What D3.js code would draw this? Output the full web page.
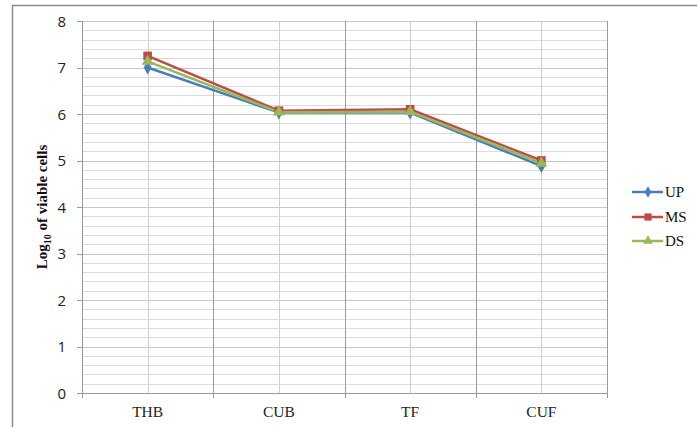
<!DOCTYPE html>
<html>
<head>
<meta charset="utf-8">
<script src="https://cdn.jsdelivr.net/npm/d3@7"></script>
<style>
  body { margin: 0; background: #fff; }
  svg { display: block; }
</style>
</head>
<body>
<div id="chart"></div>
<script>
// Data
const categories = ["THB", "CUB", "TF", "CUF"];
const seriesNames = ["UP", "MS", "DS"];
const upValues = [7.0, 6.03, 6.03, 4.88];
const msValues = [7.25, 6.07, 6.1, 5.0];
const dsValues = [7.13, 6.04, 6.05, 4.94];
const yTicks = [0, 1, 2, 3, 4, 5, 6, 7, 8];

const COLORS = { UP: "#4A7EBB", MS: "#BE4B48", DS: "#98B954" };

const width = 697, height = 427;
const margin = { top: 21, left: 82, right: 90, bottom: 34 };
const plotW = 607 - margin.left;
const plotH = 393 - margin.top;

const svg = d3.select("#chart").append("svg")
  .attr("width", width)
  .attr("height", height);

// outer frame
svg.append("path")
  .attr("d", `M12.5,${height} V5.5 H${width}`)
  .attr("fill", "none")
  .attr("stroke", "#8c8c8c")
  .attr("stroke-width", 1.5);

const g = svg.append("g").attr("transform", `translate(${margin.left},${margin.top})`);

const x = d3.scaleBand().domain(categories).range([0, plotW]);
const y = d3.scaleLinear().domain([0, 8]).range([plotH, 0]);

// minor horizontal grid every 0.2
const minor = d3.range(0, 8.01, 0.2).filter(v => Math.abs(v - Math.round(v)) > 0.01);
g.selectAll(".minor").data(minor).enter().append("line")
  .attr("x1", 0).attr("x2", plotW)
  .attr("y1", d => Math.round(y(d)) + 0.5).attr("y2", d => Math.round(y(d)) + 0.5)
  .attr("stroke", "#dcdcdc");

// major horizontal grid
g.selectAll(".major").data(yTicks).enter().append("line")
  .attr("x1", 0).attr("x2", plotW)
  .attr("y1", d => Math.round(y(d)) + 0.5).attr("y2", d => Math.round(y(d)) + 0.5)
  .attr("stroke", "#c8c8c8");

// vertical lines at category centres
g.selectAll(".vc").data(categories).enter().append("line")
  .attr("x1", d => Math.round(x(d) + x.bandwidth() / 2) + 0.5)
  .attr("x2", d => Math.round(x(d) + x.bandwidth() / 2) + 0.5)
  .attr("y1", 0).attr("y2", plotH)
  .attr("stroke", "#d0d0d0");

// vertical lines at category boundaries
const bounds = categories.map(d => x(d)).concat([plotW]);
g.selectAll(".vb").data(bounds).enter().append("line")
  .attr("x1", d => Math.round(d) + 0.5).attr("x2", d => Math.round(d) + 0.5)
  .attr("y1", 0).attr("y2", plotH + 5)
  .attr("stroke", "#9a9a9a");

// y axis ticks + labels
g.selectAll(".yt").data(yTicks).enter().append("line")
  .attr("x1", -5).attr("x2", 0)
  .attr("y1", d => Math.round(y(d)) + 0.5).attr("y2", d => Math.round(y(d)) + 0.5)
  .attr("stroke", "#9a9a9a");
g.selectAll(".yl").data(yTicks).enter().append("text")
  .attr("x", -16).attr("y", d => y(d) + 5.5)
  .attr("text-anchor", "end")
  .style("font-family", "'Open Sans', sans-serif")
  .style("font-size", "15px")
  .attr("fill", "#222")
  .text(d => d);

// x axis line
g.append("line")
  .attr("x1", 0).attr("x2", plotW)
  .attr("y1", plotH + 0.5).attr("y2", plotH + 0.5)
  .attr("stroke", "#9a9a9a");

// x labels
g.selectAll(".xl").data(categories).enter().append("text")
  .attr("x", d => x(d) + x.bandwidth() / 2)
  .attr("y", plotH + 24)
  .attr("text-anchor", "middle")
  .style("font-family", "'Liberation Serif', serif")
  .style("font-size", "15.5px")
  .attr("fill", "#222")
  .text(d => d);

// y title
const yt = svg.append("text")
  .attr("transform", `translate(47,${margin.top + plotH / 2}) rotate(-90)`)
  .attr("text-anchor", "middle")
  .style("font-family", "'Liberation Serif', serif")
  .style("font-size", "15px")
  .style("font-weight", "bold")
  .attr("fill", "#111");
yt.append("tspan").text("Log");
yt.append("tspan").attr("dy", 4).style("font-size", "10px").text("10");
yt.append("tspan").attr("dy", -4).text(" of viable cells");

// series
const series = [
  { name: "UP", values: upValues, shape: d3.symbolDiamond, size: 55 },
  { name: "MS", values: msValues, shape: d3.symbolSquare, size: 75 },
  { name: "DS", values: dsValues, shape: d3.symbolTriangle, size: 60 }
];

const line = d3.line()
  .x((d, i) => x(categories[i]) + x.bandwidth() / 2)
  .y(d => y(d));

series.forEach(s => {
  g.append("path")
    .datum(s.values)
    .attr("d", line)
    .attr("fill", "none")
    .attr("stroke", COLORS[s.name])
    .attr("stroke-width", 2.5);
});
series.forEach(s => {
  g.selectAll(".m-" + s.name).data(s.values).enter().append("path")
    .attr("transform", (d, i) => `translate(${x(categories[i]) + x.bandwidth() / 2},${y(d)})`)
    .attr("d", d3.symbol().type(s.shape).size(s.size))
    .attr("fill", COLORS[s.name]);
});

// legend
const legendY = [192, 217, 241];
series.forEach((s, i) => {
  const lg = svg.append("g").attr("transform", `translate(632,${legendY[i]})`);
  lg.append("line").attr("x1", 0).attr("x2", 31).attr("y1", 0).attr("y2", 0)
    .attr("stroke", COLORS[s.name]).attr("stroke-width", 2.5);
  lg.append("path").attr("transform", "translate(16,0)")
    .attr("d", d3.symbol().type(s.shape).size(s.size * 0.7))
    .attr("fill", COLORS[s.name]);
  lg.append("text").attr("x", 33).attr("y", 5)
    .style("font-family", "'Liberation Serif', serif")
    .style("font-size", "15px")
    .attr("fill", "#111")
    .text(s.name);
});
</script>
</body>
</html>
